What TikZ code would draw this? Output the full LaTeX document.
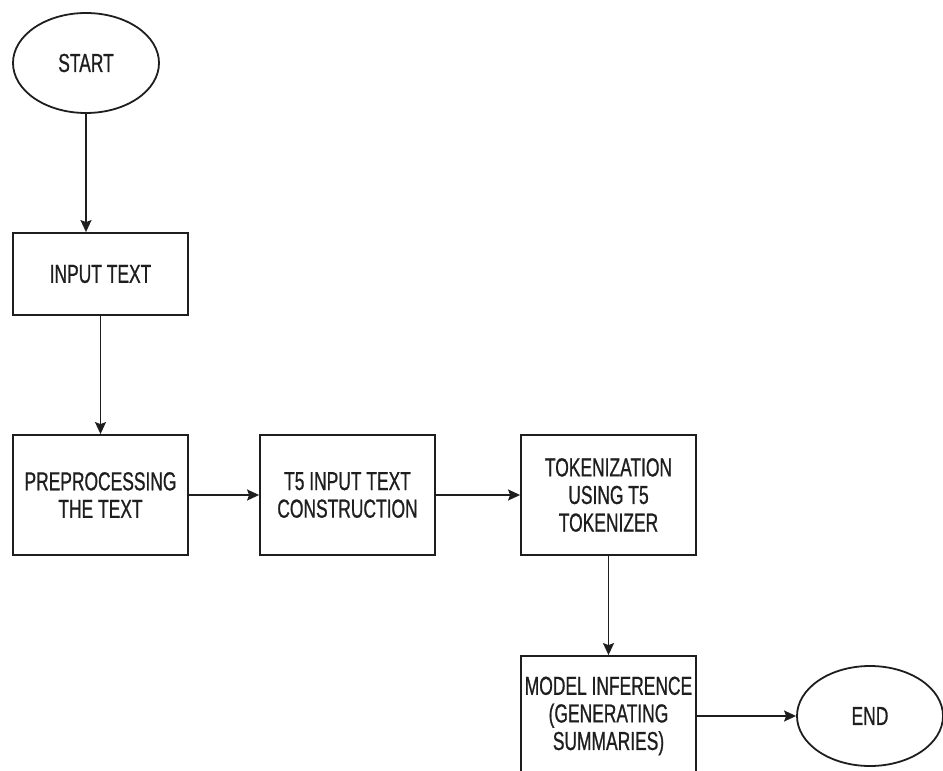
\documentclass[tikz,border=0pt]{standalone}
\usepackage{fontspec}
\usepackage{tikz}
\usetikzlibrary{shapes.geometric, arrows.meta}
\newfontfamily\flowfont[FakeStretch=0.67, FakeBold=0.8]{Liberation Sans}
\definecolor{ink}{RGB}{30, 30, 30}

\tikzset{
  stepbox/.style={draw=ink, line width=0.9pt, rectangle, minimum width=87.5pt,
    inner sep=2pt, align=center, text=ink, font=\flowfont\fontsize{13pt}{13.8pt}\selectfont},
  endpoint/.style={draw=ink, line width=0.9pt, ellipse, minimum width=73pt, minimum height=50pt,
    inner sep=0pt, text=ink, font=\flowfont\fontsize{13pt}{13.8pt}\selectfont},
  flow/.style={draw=ink, line width=0.8pt, -{Stealth[length=6pt, width=5.5pt, inset=1pt]}}
}

\begin{document}
\begin{tikzpicture}[x=0.5pt, y=-0.5pt]
      \useasboundingbox (0,0) rectangle (943,771);
      % Terminals
      \node[endpoint] (start) at (86,63) {START};
      \node[endpoint] (end) at (870,716) {END};
      % Process steps
      \node[stepbox, minimum height=41pt] (input) at (100.5,274) {INPUT TEXT};
      \node[stepbox, minimum height=60pt] (prep) at (100.5,495) {PREPROCESSING\\THE TEXT};
      \node[stepbox, minimum height=60pt] (t5in) at (347.5,495) {T5 INPUT TEXT\\CONSTRUCTION};
      \node[stepbox, minimum height=60pt] (tok) at (608.5,495) {TOKENIZATION\\USING T5\\TOKENIZER};
      \node[stepbox, minimum height=60pt] (model) at (608.5,716) {MODEL INFERENCE\\(GENERATING\\SUMMARIES)};
      % Connectors
      \draw[flow] (start.south) -- (start.south |- input.north);
      \draw[flow] (input.south) -- (prep.north);
      \draw[flow] (prep.east) -- (t5in.west);
      \draw[flow] (t5in.east) -- (tok.west);
      \draw[flow] (tok.south) -- (model.north);
      \draw[flow] (model.east) -- (end.west);
    \end{tikzpicture}
\end{document}
